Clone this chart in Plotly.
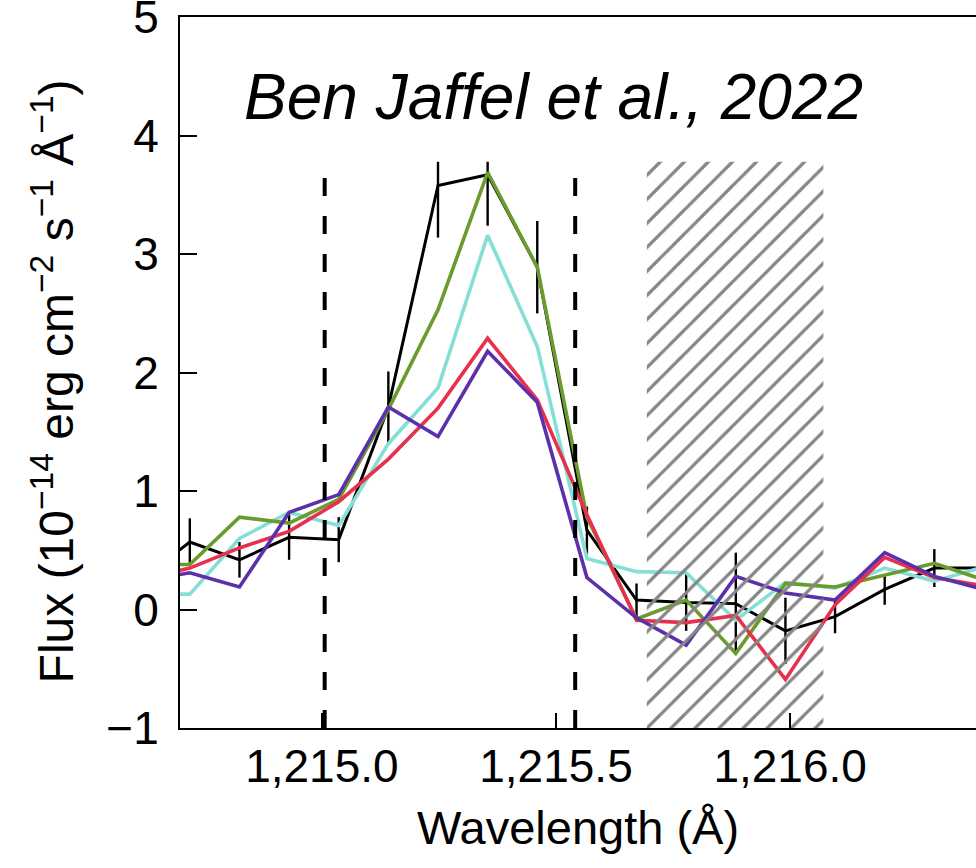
import plotly.graph_objects as go

# ---- data ----
wavelength = [1214.612, 1214.718, 1214.824, 1214.930, 1215.036, 1215.142, 1215.248,
              1215.354, 1215.460, 1215.566, 1215.672, 1215.778, 1215.884, 1215.990,
              1216.096, 1216.202, 1216.308, 1216.414]

observed = [0.25, 0.57, 0.42, 0.61, 0.59, 1.71, 3.58, 3.67, 2.89, 0.67, 0.08, 0.06,
            0.05, -0.18, -0.06, 0.17, 0.35, 0.35]
observed_err = [0.20, 0.20, 0.15, 0.19, 0.19, 0.30, 0.44, 0.43, 0.39, 0.20, 0.14, 0.24,
                0.43, 0.28, 0.14, 0.13, 0.16, 0.15]

model_green = [0.38, 0.38, 0.78, 0.73, 0.93, 1.69, 2.53, 3.69, 2.89, 0.78, -0.08, 0.08,
               -0.37, 0.22, 0.19, 0.29, 0.39, 0.25]
model_cyan = [0.13, 0.13, 0.60, 0.82, 0.71, 1.40, 1.87, 3.16, 2.22, 0.43, 0.32, 0.31,
              -0.09, 0.23, 0.18, 0.35, 0.24, 0.36]
model_red = [0.25, 0.35, 0.52, 0.66, 0.91, 1.27, 1.70, 2.29, 1.77, 0.80, -0.09, -0.11,
             -0.05, -0.59, 0.04, 0.44, 0.27, 0.20]
model_purple = [0.24, 0.31, 0.19, 0.82, 0.97, 1.71, 1.46, 2.18, 1.75, 0.27, -0.07, -0.30,
                0.28, 0.14, 0.08, 0.48, 0.28, 0.17]

line_positions = [1215.006, 1215.541]      # dashed vertical markers
hatch_x = [1215.694, 1216.071]             # hatched (excluded) band
clip_top = 3.78                            # upper limit of the drawn data panel
y_range = [-1, 5.002]
x_range = [1214.697, 1216.397]
x_ticks = [1215.0, 1215.5, 1216.0]
y_ticks = [-1, 0, 1, 2, 3, 4, 5]

FONT = "Liberation Sans, Arial, Helvetica, sans-serif"

# error bars clipped at the panel top
err_plus = [min(v + e, clip_top) - v for v, e in zip(observed, observed_err)]

fig = go.Figure()

fig.add_trace(go.Scatter(
    x=wavelength, y=observed, mode="lines",
    line=dict(color="black", width=3),
    error_y=dict(type="data", symmetric=False, array=err_plus, arrayminus=observed_err,
                 color="black", thickness=2.4, width=0),
    showlegend=False))

for vals, col in [(model_cyan, "#86dfd6"), (model_green, "#6b9b2c"),
                  (model_red, "#e8304c"), (model_purple, "#5c30aa")]:
    fig.add_trace(go.Scatter(x=wavelength, y=vals, mode="lines",
                             line=dict(color=col, width=3.6), showlegend=False))

# hatched band
fig.add_trace(go.Scatter(
    x=[hatch_x[0], hatch_x[1], hatch_x[1], hatch_x[0], hatch_x[0]],
    y=[y_range[0], y_range[0], clip_top, clip_top, y_range[0]],
    mode="lines", line=dict(width=0, color="rgba(0,0,0,0)"),
    fill="toself", fillcolor="rgba(0,0,0,0)",
    fillpattern=dict(shape="/", fgcolor="#858585", bgcolor="rgba(0,0,0,0)",
                     fgopacity=1, size=17, solidity=0.19),
    hoverinfo="skip", showlegend=False))

for xv in line_positions:
    fig.add_shape(type="line", xref="x", yref="y", x0=xv, x1=xv,
                  y0=y_range[0], y1=clip_top, layer="above",
                  line=dict(color="black", width=4, dash="18px,20px"))

fig.add_annotation(text="<i>Ben Jaffel et al., 2022</i>", xref="paper", yref="paper",
                   x=0.4686, y=0.888, xanchor="center", yanchor="middle",
                   showarrow=False, font=dict(family=FONT, size=64, color="black"))

# y-axis title as rotated annotation
fig.add_annotation(text="Flux (10<sup>−14</sup> erg cm<sup>−2</sup> s<sup>−1</sup> Å<sup>−1</sup>)",
                   xref="paper", yref="paper", x=-0.16, y=0.487,
                   xanchor="center", yanchor="middle", textangle=-90,
                   showarrow=False, font=dict(family=FONT, size=48, color="black"))

fig.update_layout(
    width=976, height=868,
    margin=dict(l=180, r=0, t=17, b=140, autoexpand=False),
    paper_bgcolor="white", plot_bgcolor="white",
    font=dict(family=FONT, color="black"),
)

fig.update_xaxes(
    range=x_range, tickvals=x_ticks, tickformat=",.1f", automargin=False,
    ticks="inside", ticklen=15, tickwidth=2, tickcolor="black",
    showline=True, linecolor="black", linewidth=2, mirror=True,
    showgrid=False, zeroline=False,
    tickfont=dict(family=FONT, size=46, color="black"),
    ticklabelstandoff=-3,
    title=dict(text="Wavelength (Å)", font=dict(family=FONT, size=47, color="black"),
               standoff=20))

fig.update_yaxes(
    range=y_range, tickvals=y_ticks, automargin=False,
    ticks="inside", ticklen=17, tickwidth=2, tickcolor="black",
    showline=True, linecolor="black", linewidth=2, mirror=False,
    showgrid=False, zeroline=False,
    tickfont=dict(family=FONT, size=46, color="black"),
    ticklabelstandoff=10, ticklabeloverflow="allow")

fig.write_html("out.html")
